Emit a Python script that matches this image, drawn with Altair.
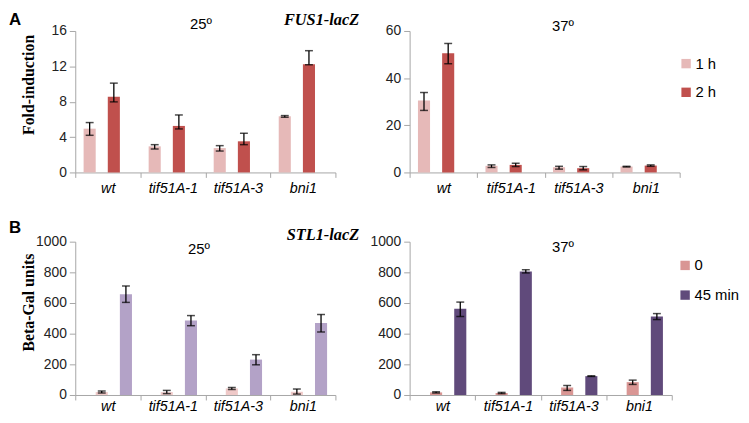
import altair as alt
import pandas as pd

genotypes = ["wt", "tif51A-1", "tif51A-3", "bni1"]

# Panel A (FUS1-lacZ, fold-induction)
a_series = ["1 h", "2 h"]
a25_1h = [4.95, 2.95, 2.75, 6.35]
a25_1h_lo = [4.2, 2.65, 2.42, 6.24]
a25_1h_hi = [5.64, 3.14, 3.03, 6.43]
a25_2h = [8.55, 5.26, 3.52, 12.25]
a25_2h_lo = [7.98, 4.92, 3.14, 12.18]
a25_2h_hi = [10.1, 6.5, 4.43, 13.77]

a37_1h = [30.5, 2.8, 2.2, 2.5]
a37_1h_lo = [26.3, 2.1, 1.4, 2.3]
a37_1h_hi = [33.9, 3.2, 2.6, 2.6]
a37_2h = [50.6, 3.2, 1.8, 2.9]
a37_2h_lo = [46.1, 2.5, 1.1, 2.6]
a37_2h_hi = [54.7, 3.9, 2.5, 3.2]

# Panel B (STL1-lacZ, Beta-Gal units)
b_series = ["0", "45 min"]
b25_0 = [19, 19, 43, 21]
b25_0_lo = [13, 9, 36, 6]
b25_0_hi = [26, 30, 49, 39]
b25_45 = [657, 486, 231, 469]
b25_45_lo = [604, 452, 197, 411]
b25_45_hi = [711, 518, 263, 525]

b37_0 = [17, 13, 49, 84]
b37_0_lo = [13, 9, 30, 69]
b37_0_hi = [21, 17, 62, 97]
b37_45 = [563, 806, 123, 512]
b37_45_lo = [512, 796, 121, 492]
b37_45_hi = [606, 817, 125, 531]

a_colors = ["#E6B9B8", "#C0504D"]
b25_colors = ["#EFC9C8", "#B3A2C7"]
b37_colors = ["#D99694", "#604A7B"]

AXIS_GRAY = "#A6A6A6"
SANS = "Liberation Sans"
SERIF = "Liberation Serif"


def panel(v1, lo1, hi1, v2, lo2, hi2, series, colors, ticks, width, height,
          ytitle, ytitle_y, label_pad, texts, legend=None):
    df = pd.DataFrame({
        "genotype": genotypes * 2,
        "series": [series[0]] * 4 + [series[1]] * 4,
        "value": v1 + v2,
        "lo": lo1 + lo2,
        "hi": hi1 + hi2,
    })
    yaxis_kw = dict(values=ticks, format="d", domainColor=AXIS_GRAY, tickColor=AXIS_GRAY,
                    tickSize=6, labelPadding=3, labelFont=SANS, labelFontSize=14,
                    labelColor="#222222", grid=False)
    if ytitle:
        yaxis_kw.update(title=ytitle, titleFont=SERIF, titleFontSize=16,
                        titleFontWeight="bold", titleColor="black",
                        titleX=-47, titleY=ytitle_y, titleAlign="center",
                        titleBaseline="middle", titleAngle=270)
    else:
        yaxis_kw.update(title=None)
    yaxis = alt.Axis(**yaxis_kw)
    yscale = alt.Scale(domain=[ticks[0], ticks[-1]], nice=False)
    xaxis = alt.Axis(title=None, labelAngle=0, labelFont=SANS, labelFontSize=14.5,
                     labelFontStyle="italic", labelColor="black",
                     domainColor=AXIS_GRAY, tickColor=AXIS_GRAY, tickSize=5,
                     tickBand="extent", labelPadding=label_pad)
    base = alt.Chart(df).encode(
        x=alt.X("genotype:N", sort=genotypes, axis=xaxis,
                scale=alt.Scale(paddingInner=0, paddingOuter=0)),
        xOffset=alt.XOffset("series:N", sort=series,
                            scale=alt.Scale(paddingInner=0, paddingOuter=0.69)),
    )
    color_kw = dict(scale=alt.Scale(domain=series, range=colors), sort=series)
    if legend:
        leg = alt.Legend(title=None, orient="none", legendX=legend[0], legendY=legend[1],
                         symbolType="square", symbolSize=90, symbolStrokeWidth=0,
                         labelFont=SANS, labelFontSize=legend[2], labelColor="black",
                         rowPadding=legend[3], labelOffset=2, padding=0)
        color = alt.Color("series:N", legend=leg, **color_kw)
    else:
        color = alt.Color("series:N", legend=None, **color_kw)
    bars = base.mark_bar().encode(
        y=alt.Y("value:Q", scale=yscale, axis=yaxis),
        color=color,
    )
    rules = base.mark_rule(color="black", strokeWidth=1.3).encode(
        y=alt.Y("lo:Q", scale=yscale, axis=yaxis), y2="hi:Q")
    cap_lo = base.mark_tick(color="black", size=8, thickness=1.5).encode(
        y=alt.Y("lo:Q", scale=yscale, axis=yaxis))
    cap_hi = base.mark_tick(color="black", size=8, thickness=1.5).encode(
        y=alt.Y("hi:Q", scale=yscale, axis=yaxis))
    layers = [bars, rules, cap_lo, cap_hi]
    for (txt, x, y, font, size, weight, style, align) in texts:
        layers.append(
            alt.Chart(pd.DataFrame({"t": [txt]})).mark_text(
                font=font, fontSize=size, fontWeight=weight, fontStyle=style,
                align=align, baseline="top", color="black",
            ).encode(text="t:N", x=alt.value(x), y=alt.value(y))
        )
    return alt.layer(*layers).properties(width=width, height=height)


A_TXT = [
    ("A", -67, -19, SANS, 17, "bold", "normal", "left"),
    ("FUS1-lacZ", 287, -19, SERIF, 16.5, "bold", "italic", "right"),
    ("25º", 127, -14, SANS, 15, "normal", "normal", "center"),
]
A37_TXT = [("37º", 155, -12, SANS, 15, "normal", "normal", "center")]
B_TXT = [
    ("B", -67, -22, SANS, 17, "bold", "normal", "left"),
    ("STL1-lacZ", 287, -15, SERIF, 16.5, "bold", "italic", "right"),
    ("25º", 125, 0, SANS, 15, "normal", "normal", "center"),
]
B37_TXT = [("37º", 155, -2, SANS, 15, "normal", "normal", "center")]

pa25 = panel(a25_1h, a25_1h_lo, a25_1h_hi, a25_2h, a25_2h_lo, a25_2h_hi,
             a_series, a_colors, [0, 4, 8, 12, 16], 263, 143,
             "Fold-induction", 54, 4, A_TXT)
pa37 = panel(a37_1h, a37_1h_lo, a37_1h_hi, a37_2h, a37_2h_lo, a37_2h_hi,
             a_series, a_colors, [0, 20, 40, 60], 273, 143,
             None, 0, 4, A37_TXT, legend=(272, 25.5, 15, 13))
pb25 = panel(b25_0, b25_0_lo, b25_0_hi, b25_45, b25_45_lo, b25_45_hi,
             b_series, b25_colors, [0, 200, 400, 600, 800, 1000], 263, 155,
             "Beta-Gal units", 61, 0, B_TXT)
pb37 = panel(b37_0, b37_0_lo, b37_0_hi, b37_45, b37_45_lo, b37_45_hi,
             b_series, b37_colors, [0, 200, 400, 600, 800, 1000], 265, 155,
             None, 0, 0, B37_TXT, legend=(271, 16.5, 15, 14))

chart = alt.concat(
    pa25, pa37, pb25, pb37, columns=2,
    spacing={"row": 70, "column": 75}, bounds="flush",
).resolve_scale(
    color="independent"
).properties(
    padding={"left": 0, "top": 0, "right": 0, "bottom": 0}
).configure_view(stroke="transparent")

chart.save("out.html", embed_options={"renderer": "svg", "actions": False})
